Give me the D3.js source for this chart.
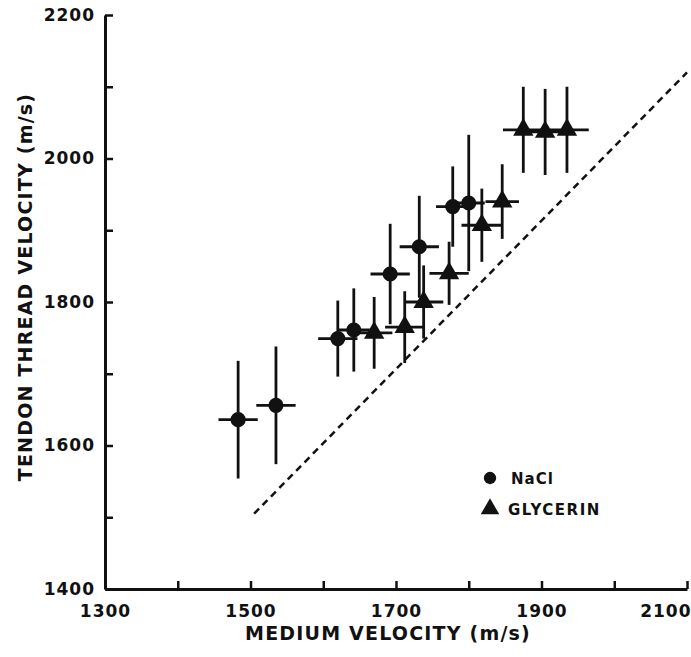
<!DOCTYPE html>
<html>
<head>
<meta charset="utf-8">
<script src="https://cdnjs.cloudflare.com/ajax/libs/d3/7.8.4/d3.min.js"></script>
<style>
  html, body { margin: 0; padding: 0; background: #fff; }
  svg text { font-family: "DejaVu Sans", sans-serif; font-weight: bold; fill: #111; }
</style>
</head>
<body>
<div id="chart"></div>
<script>
// tick values and labels
const xTicks = [1300, 1400, 1500, 1600, 1700, 1800, 1900, 2000, 2100];
const xLabels = [1300, 1500, 1700, 1900, 2100];
const yTicks = [1400, 1500, 1600, 1700, 1800, 1900, 2000, 2100, 2200];
const yLabels = [1400, 1600, 1800, 2000, 2200];

// NaCl series (circles)
const naclX    = [1483, 1535, 1620, 1642, 1692, 1732, 1778, 1800];
const naclY    = [1636, 1656, 1749, 1761, 1839, 1877, 1933, 1938];
const naclXErr = [27, 27, 27, 22, 27, 27, 23, 22];
const naclYErr = [82, 82, 53, 58, 70, 71, 56, 95];

// glycerin series (triangles)
const glyX    = [1670, 1712, 1738, 1773, 1818, 1846, 1875, 1905, 1935];
const glyY    = [1757, 1765, 1800, 1840, 1907, 1940, 2040, 2037, 2040];
const glyXErr = [25, 27, 27, 27, 28, 23, 28, 25, 30];
const glyYErr = [50, 50, 51, 44, 51, 52, 60, 60, 60];

// dashed reference line
const diagX = [1505, 2100];
const diagY = [1505, 2120];

const W = 691, H = 657;
const svg = d3.select("#chart").append("svg")
  .attr("width", W).attr("height", H);

const x = d3.scaleLinear().domain([1300, 2100]).range([105, 687]);
const y = d3.scaleLinear().domain([1400, 2200]).range([589, 15]);

// axes, ticks pointing inward
const xAxis = svg.append("g")
  .attr("transform", `translate(0,${y(1400)})`)
  .call(d3.axisBottom(x).tickValues(xTicks).tickSizeInner(-8).tickSizeOuter(0)
    .tickPadding(14).tickFormat(d => xLabels.includes(d) ? d : ""));
const yAxis = svg.append("g")
  .attr("transform", `translate(${x(1300)},0)`)
  .call(d3.axisLeft(y).tickValues(yTicks).tickSizeInner(-8).tickSizeOuter(0)
    .tickPadding(10).tickFormat(d => yLabels.includes(d) ? d : ""));

[xAxis, yAxis].forEach(g => {
  g.select(".domain").attr("stroke", "#111").attr("stroke-width", 3);
  g.selectAll(".tick line").attr("stroke", "#111").attr("stroke-width", 2.5);
  g.selectAll(".tick text").style("font-size", "17px").attr("letter-spacing", "1px").attr("fill", "#111");
});
// keep the last x label inside the page
xAxis.selectAll(".tick text").filter(d => d === 2100).attr("text-anchor", "end").attr("dx", 4);
xAxis.selectAll(".tick text").attr("dy", "0.85em");

// axis titles
svg.append("text")
  .attr("x", 388).attr("y", 640)
  .attr("text-anchor", "middle")
  .style("font-size", "19px").attr("letter-spacing", "1.2px")
  .text("MEDIUM VELOCITY (m/s)");
svg.append("text")
  .attr("transform", `translate(32,${287}) rotate(-90)`)
  .attr("text-anchor", "middle")
  .style("font-size", "19px").attr("letter-spacing", "1.2px")
  .text("TENDON THREAD VELOCITY (m/s)");

// dashed line
svg.append("line")
  .attr("x1", x(diagX[0])).attr("y1", y(diagY[0]))
  .attr("x2", x(diagX[1])).attr("y2", y(diagY[1]))
  .attr("stroke", "#111").attr("stroke-width", 2.5)
  .attr("stroke-dasharray", "7,5");

function drawSeries(xs, ys, xe, ye, shape) {
  const g = svg.append("g");
  const data = xs.map((v, i) => ({x: v, y: ys[i], xe: xe[i], ye: ye[i]}));
  g.selectAll(".vbar").data(data).join("line")
    .attr("x1", d => x(d.x)).attr("x2", d => x(d.x))
    .attr("y1", d => y(d.y - d.ye)).attr("y2", d => y(d.y + d.ye))
    .attr("stroke", "#111").attr("stroke-width", 2.8);
  g.selectAll(".hbar").data(data).join("line")
    .attr("x1", d => x(d.x - d.xe)).attr("x2", d => x(d.x + d.xe))
    .attr("y1", d => y(d.y)).attr("y2", d => y(d.y))
    .attr("stroke", "#111").attr("stroke-width", 2.8);
  g.selectAll("path.mark").data(data).join("path")
    .attr("class", "mark")
    .attr("transform", d => `translate(${x(d.x)},${y(d.y)})`)
    .attr("d", d3.symbol().type(shape).size(180))
    .attr("fill", "#111");
}
drawSeries(naclX, naclY, naclXErr, naclYErr, d3.symbolCircle);
drawSeries(glyX, glyY, glyXErr, glyYErr, d3.symbolTriangle);

// legend
const legend = svg.append("g");
legend.append("path")
  .attr("transform", "translate(490,478)")
  .attr("d", d3.symbol().type(d3.symbolCircle).size(120)).attr("fill", "#111");
legend.append("text").attr("x", 511).attr("y", 484)
  .style("font-size", "15px").attr("letter-spacing", "1px").text("NaCl");
legend.append("path")
  .attr("transform", "translate(490,509)")
  .attr("d", d3.symbol().type(d3.symbolTriangle).size(150)).attr("fill", "#111");
legend.append("text").attr("x", 508).attr("y", 515)
  .style("font-size", "15px").attr("letter-spacing", "1.5px").text("GLYCERIN");
</script>
</body>
</html>
